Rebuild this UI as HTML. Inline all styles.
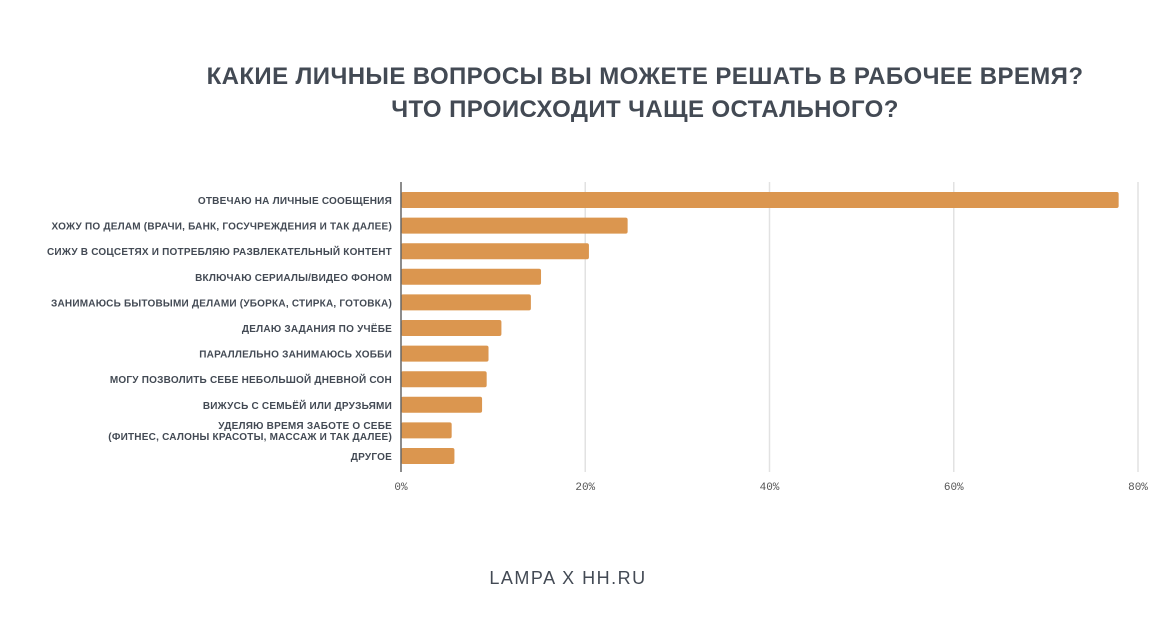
<!DOCTYPE html>
<html><head><meta charset="utf-8"><style>
body{margin:0;background:#fff;width:1176px;height:619px;overflow:hidden;font-family:"Liberation Sans","DejaVu Sans",sans-serif}
</style></head><body>
<svg width="1176" height="619" xmlns="http://www.w3.org/2000/svg">
<text x="645" y="84" text-anchor="middle" font-size="24" font-weight="bold" fill="#434a54" letter-spacing="0.4">КАКИЕ ЛИЧНЫЕ ВОПРОСЫ ВЫ МОЖЕТЕ РЕШАТЬ В РАБОЧЕЕ ВРЕМЯ?</text>
<text x="645" y="117" text-anchor="middle" font-size="24" font-weight="bold" fill="#434a54" letter-spacing="0.4">ЧТО ПРОИСХОДИТ ЧАЩЕ ОСТАЛЬНОГО?</text>
<g id="grid"></g><g id="bars"></g><g id="labels"></g><g id="ticks"></g>
<line x1="401" y1="182" x2="401" y2="472" stroke="#666" stroke-width="1.5"/>
<text x="568" y="584" text-anchor="middle" font-size="18" fill="#434a54" letter-spacing="1.5">LAMPA X HH.RU</text>
</svg>
<script>
const categories=[["ОТВЕЧАЮ НА ЛИЧНЫЕ СООБЩЕНИЯ"],["ХОЖУ ПО ДЕЛАМ (ВРАЧИ, БАНК, ГОСУЧРЕЖДЕНИЯ И ТАК ДАЛЕЕ)"],["СИЖУ В СОЦСЕТЯХ И ПОТРЕБЛЯЮ РАЗВЛЕКАТЕЛЬНЫЙ КОНТЕНТ"],["ВКЛЮЧАЮ СЕРИАЛЫ/ВИДЕО ФОНОМ"],["ЗАНИМАЮСЬ БЫТОВЫМИ ДЕЛАМИ (УБОРКА, СТИРКА, ГОТОВКА)"],["ДЕЛАЮ ЗАДАНИЯ ПО УЧЁБЕ"],["ПАРАЛЛЕЛЬНО ЗАНИМАЮСЬ ХОББИ"],["МОГУ ПОЗВОЛИТЬ СЕБЕ НЕБОЛЬШОЙ ДНЕВНОЙ СОН"],["ВИЖУСЬ С СЕМЬЁЙ ИЛИ ДРУЗЬЯМИ"],["УДЕЛЯЮ ВРЕМЯ ЗАБОТЕ О СЕБЕ","(ФИТНЕС, САЛОНЫ КРАСОТЫ, МАССАЖ И ТАК ДАЛЕЕ)"],["ДРУГОЕ"]];
const values=[77.9,24.6,20.4,15.2,14.1,10.9,9.5,9.3,8.8,5.5,5.8];
const ticks=[0,20,40,60,80];
const tickLabels=["0%","20%","40%","60%","80%"];
const NS="http://www.w3.org/2000/svg";
const x=v=>401+v*9.2125;
const y=i=>200+i*25.6;
function mk(t,a,p){const e=document.createElementNS(NS,t);for(const k in a)e.setAttribute(k,a[k]);document.getElementById(p).appendChild(e);return e;}
ticks.forEach((t,i)=>{
 if(t>0){const g=mk('line',{x1:x(t),x2:x(t),y1:182,y2:472,stroke:'#e2e2e2','stroke-width':1.5},'grid');
 
 }
 const l=mk('text',{x:x(t),y:490,'text-anchor':'middle','font-size':11,fill:'#555','font-family':'Liberation Mono, monospace'},'ticks');
 l.textContent=tickLabels[i];
 
 
});
values.forEach((v,i)=>{
 const b=mk('rect',{x:401,y:y(i)-8,width:x(v)-401,height:16,rx:2,fill:'#db964f'},'bars');
 
 
 const lines=categories[i];
 lines.forEach((s,j)=>{
  const t=mk('text',{x:392,y:y(i)+4+(lines.length>1?(j-0.5)*11:0),'text-anchor':'end','font-size':10,'font-weight':'bold',fill:'#434a54','letter-spacing':0.22},'labels');
  t.textContent=s;
  
  
 });
});
</script>
</body></html>
